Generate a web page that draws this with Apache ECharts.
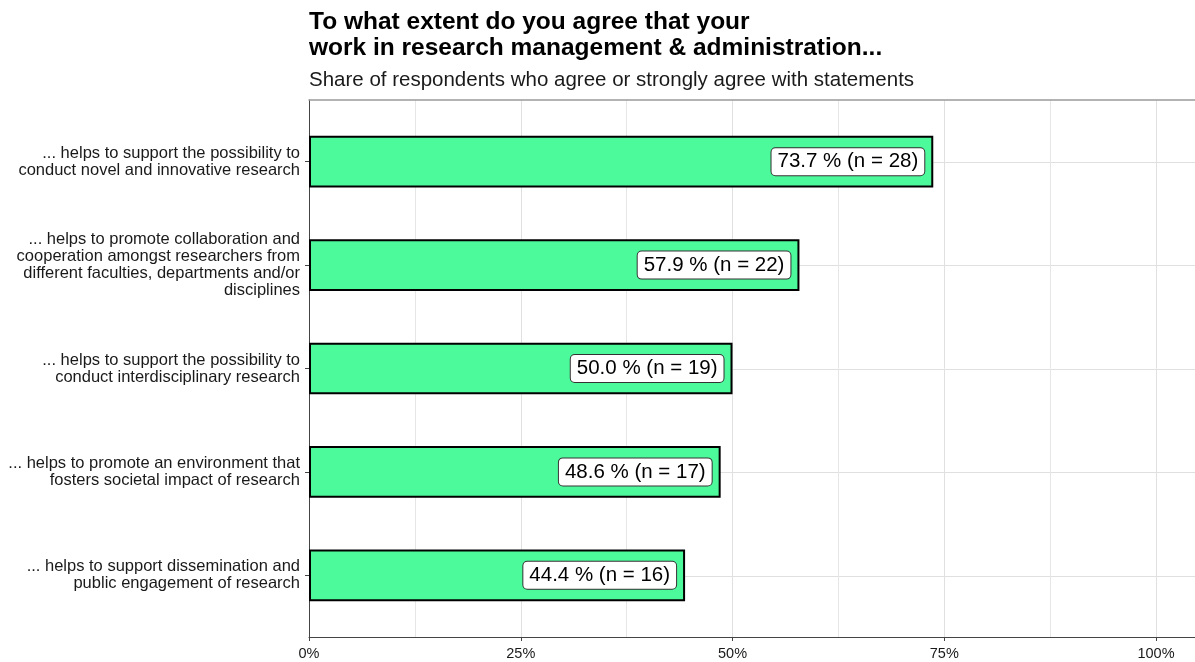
<!DOCTYPE html>
<html>
<head>
<meta charset="utf-8">
<script src="https://cdn.jsdelivr.net/npm/echarts@6/dist/echarts.min.js"></script>
<style>
  html, body { margin: 0; padding: 0; background: #fff; }
  #chart { width: 1195px; height: 662px; }
</style>
</head>
<body>
<div id="chart"></div>
<script>
// statements, top to bottom
const statements = [
  "... helps to support the possibility to\nconduct novel and innovative research",
  "... helps to promote collaboration and\ncooperation amongst researchers from\ndifferent faculties, departments and/or\ndisciplines",
  "... helps to support the possibility to\nconduct interdisciplinary research",
  "... helps to promote an environment that\nfosters societal impact of research",
  "... helps to support dissemination and\npublic engagement of research"
];
// share agree / strongly agree (%)
const shares = [73.7, 57.9, 50.0, 48.6, 44.4];
const counts = [28, 22, 19, 17, 16];

const FONT = "Liberation Sans, Arial, sans-serif";
const xMax = 104.6;

let myChart = echarts.init(document.getElementById("chart"));

let option = {
  animation: false,
  title: [
    {
      text: "To what extent do you agree that your\nwork in research management & administration...",
      left: 304,
      top: 4,
      textStyle: { fontFamily: FONT, fontSize: 24.5, fontWeight: "bold", color: "#000", lineHeight: 26 }
    },
    {
      text: "Share of respondents who agree or strongly agree with statements",
      left: 304,
      top: 65,
      textStyle: { fontFamily: FONT, fontSize: 20.5, fontWeight: "normal", color: "#1a1a1a" }
    }
  ],
  grid: [
    // frame: vertical grid lines + axes
    { left: 309, right: 0, top: 100, bottom: 25 },
    // bars
    { left: 309, right: 0, top: 110, bottom: 35 },
    // horizontal grid lines at category centres
    { left: 309, right: 0, top: 161.75, bottom: 86.25 }
  ],
  xAxis: [
    {
      gridIndex: 0,
      type: "value",
      min: 0,
      max: xMax,
      interval: 25,
      axisLine: { show: true, lineStyle: { color: "#444", width: 1 } },
      axisTick: { show: true, length: 4, lineStyle: { color: "#444" } },
      minorTick: { show: false, splitNumber: 2 },
      axisLabel: {
        showMaxLabel: false,
        margin: 9,
        fontFamily: FONT,
        fontSize: 14.5,
        color: "#1a1a1a",
        formatter: "{value}%"
      },
      splitLine: { show: true, lineStyle: { color: "#e0e0e0", width: 1 } },
      minorSplitLine: { show: true, lineStyle: { color: "#e6e6e6", width: 1 } }
    },
    {
      gridIndex: 0,
      type: "value",
      position: "top",
      min: 0,
      max: xMax,
      axisLine: { show: true, lineStyle: { color: "#9a9a9a", width: 1.5 } },
      axisTick: { show: false },
      axisLabel: { show: false },
      splitLine: { show: false }
    },
    {
      gridIndex: 1,
      type: "value",
      min: 0,
      max: xMax,
      show: false
    },
    {
      gridIndex: 2,
      type: "value",
      min: 0,
      max: xMax,
      show: false
    }
  ],
  yAxis: [
    {
      gridIndex: 0,
      type: "value",
      min: 0,
      max: 1,
      axisLine: { show: true, lineStyle: { color: "#444", width: 1 } },
      axisTick: { show: false },
      axisLabel: { show: false },
      splitLine: { show: false }
    },
    {
      gridIndex: 1,
      type: "category",
      inverse: true,
      data: statements,
      axisLine: { show: false },
      axisTick: { show: true, alignWithLabel: true, length: 4, lineStyle: { color: "#444" } },
      axisLabel: {
        margin: 9,
        fontFamily: FONT,
        fontSize: 16.5,
        lineHeight: 17,
        color: "#1a1a1a",
        align: "right",
        padding: [4, 0, 0, 0]
      },
      splitLine: { show: false }
    },
    {
      gridIndex: 2,
      type: "value",
      min: 0,
      max: 4,
      interval: 1,
      axisLine: { show: false },
      axisTick: { show: false },
      axisLabel: { show: false },
      splitLine: { show: true, lineStyle: { color: "#e0e0e0", width: 1 } }
    }
  ],
  series: [
    {
      type: "bar",
      xAxisIndex: 2,
      yAxisIndex: 1,
      barWidth: "50%",
      data: shares,
      itemStyle: {
        color: "#4cfa9b",
        borderColor: "#000",
        borderWidth: 2
      },
      label: {
        show: true,
        position: "insideRight",
        distance: 9,
        fontFamily: FONT,
        fontSize: 20.5,
        color: "#000",
        backgroundColor: "#fff",
        borderColor: "#333",
        borderWidth: 1,
        borderRadius: 4,
        padding: [4, 6, 2, 6],
        formatter: function (p) {
          return p.value.toFixed(1) + " % (n = " + counts[p.dataIndex] + ")";
        }
      },
      z: 3
    }
  ]
};

myChart.setOption(option);
window.addEventListener("resize", () => { myChart.resize(); }, true);
</script>
</body>
</html>
